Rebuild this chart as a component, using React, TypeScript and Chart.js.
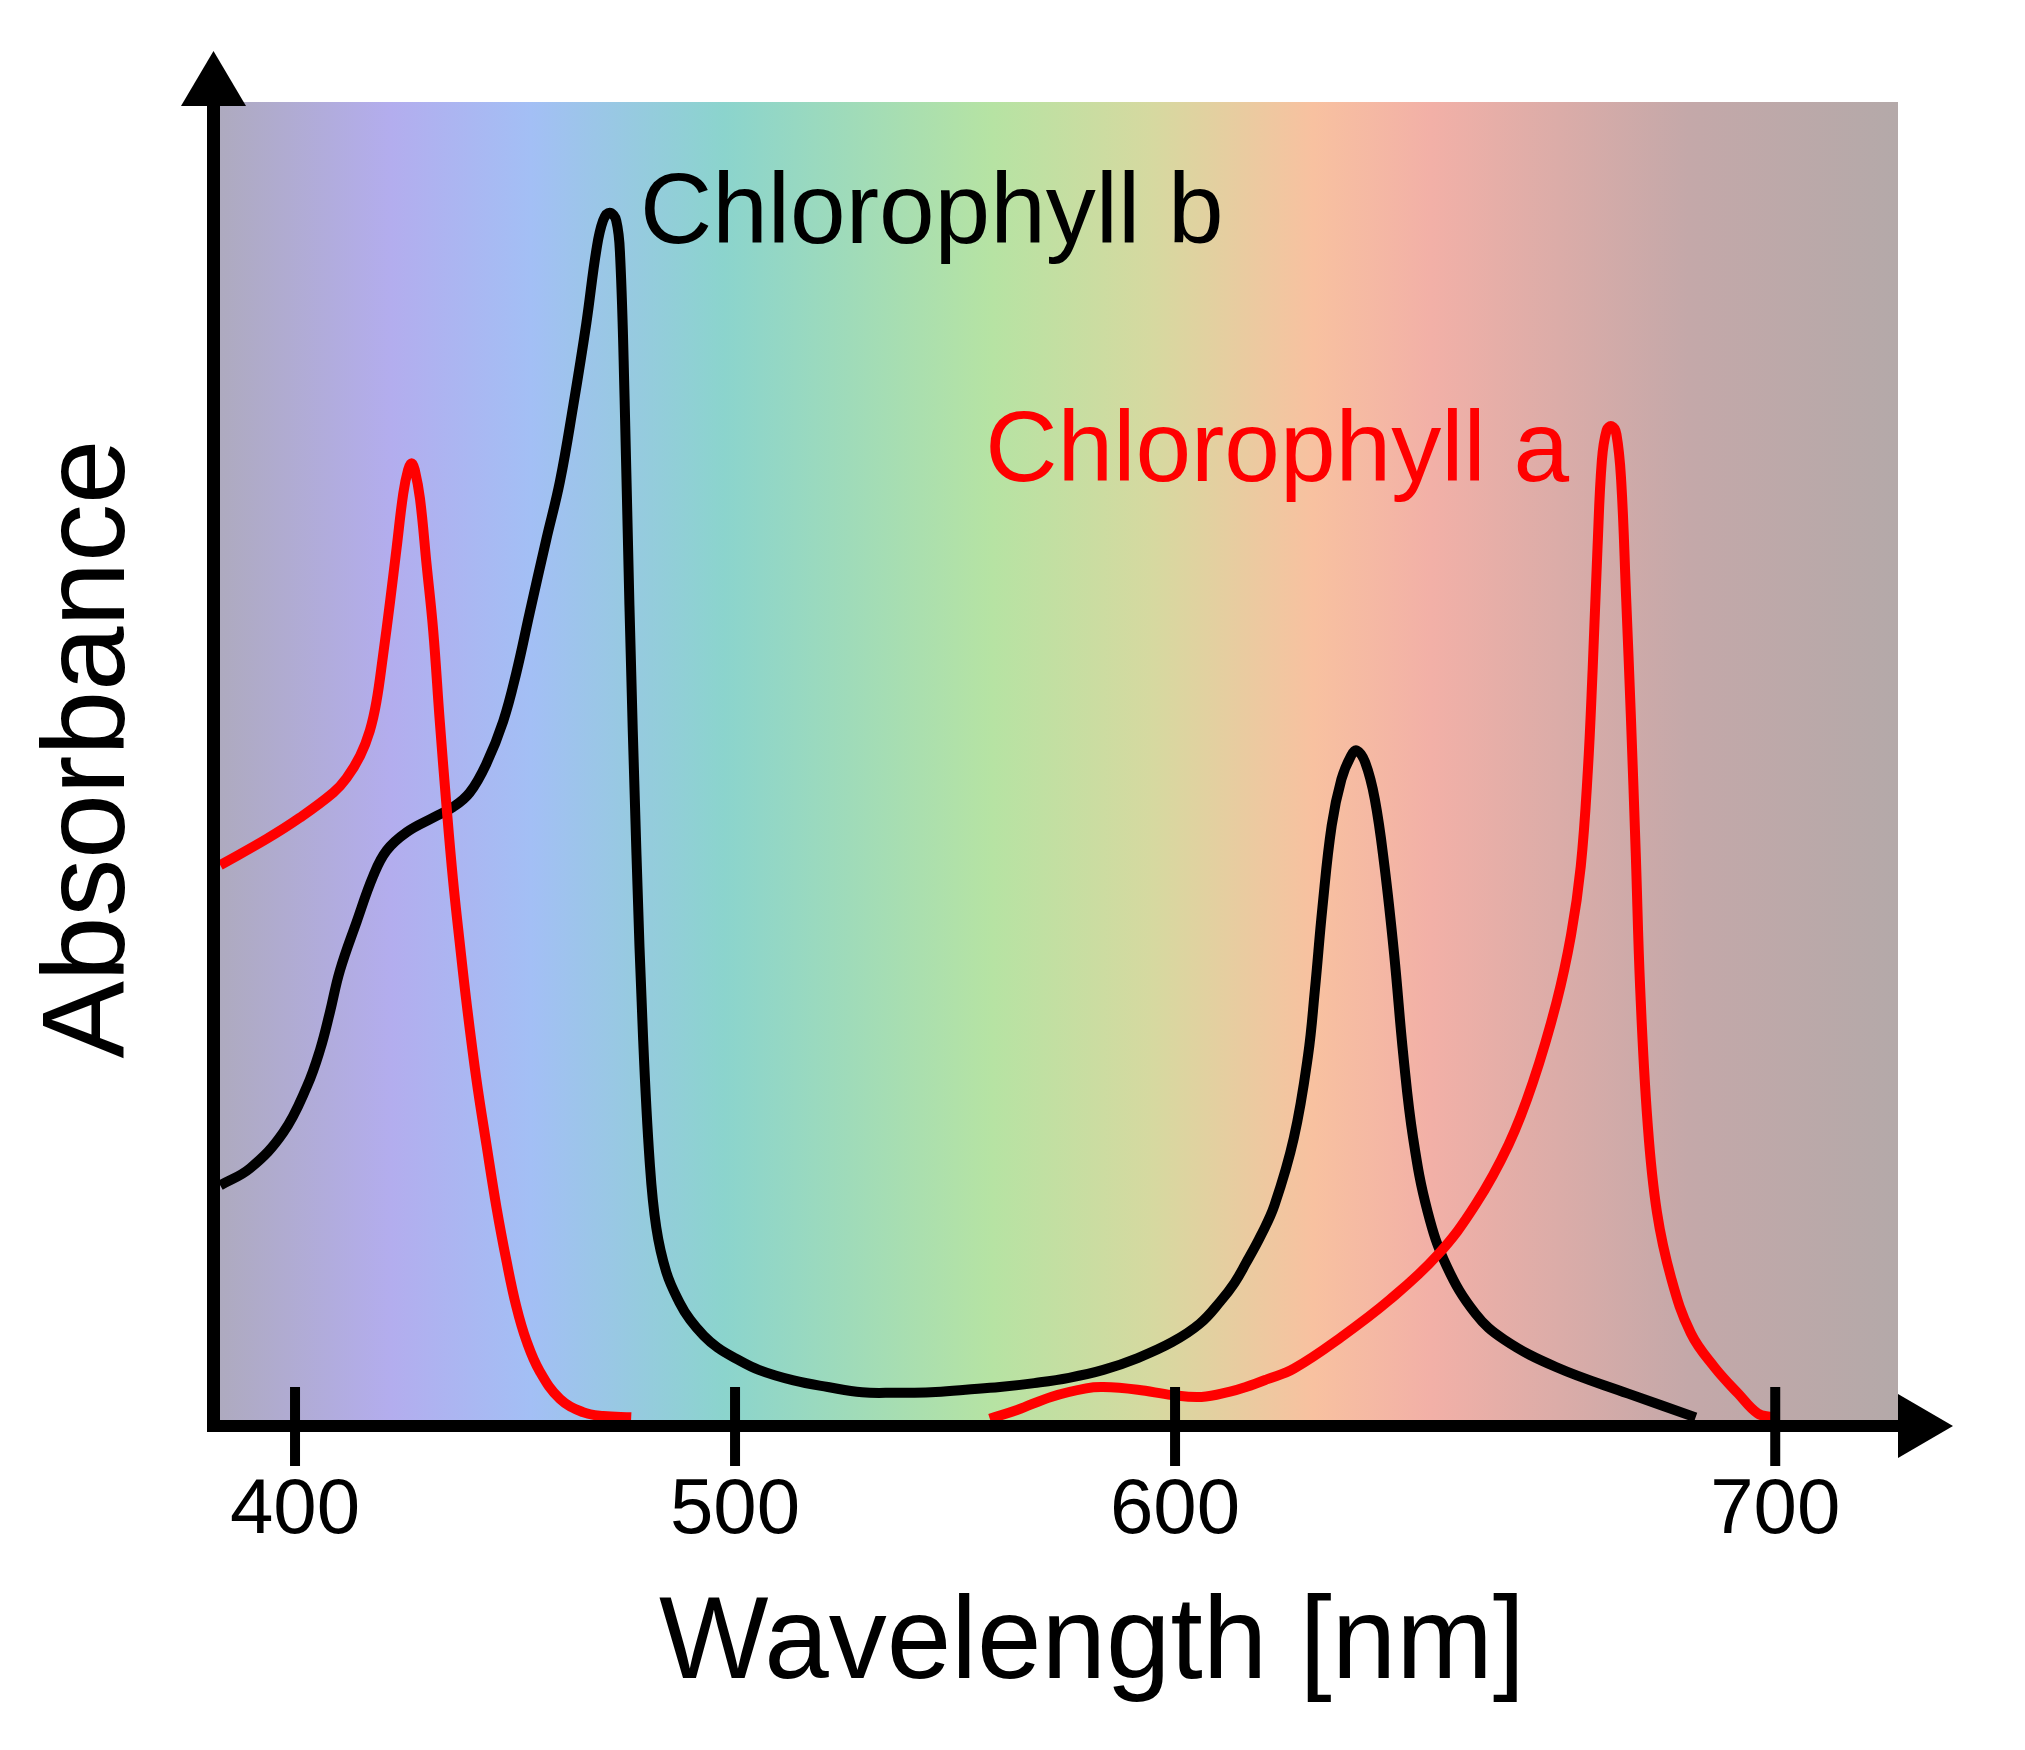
import { useEffect, useRef } from 'react';
import { Chart, registerables } from 'chart.js';

Chart.register(...registerables);

// Chlorophyll a (red) – wavelength [nm] and relative absorbance; null breaks the line
const chlAWavelength = [
  383.0, 393.6, 401.1, 408.7, 411.7, 414.8, 417.0, 418.5, 420.0, 421.6, 423.1, 424.6,
  425.7, 426.5, 427.2, 428.4, 429.9, 431.4, 432.9, 434.4, 435.9, 437.5, 439.0, 441.2,
  443.5, 445.8, 448.1, 450.3, 452.6, 455.6, 460.2, 465.4, 470.0, 476.4,
  517.0,
  557.9, 564.1, 572.0, 579.8, 583.7, 591.5, 599.3, 606.0, 612.5, 616.1, 621.0, 627.0, 637.8,
  648.7, 659.6, 668.2, 675.8, 681.3, 686.7, 690.0, 692.2, 693.8, 694.9, 696.0, 697.0,
  698.1, 699.2, 700.3, 701.4, 702.5, 703.6, 704.7, 705.7, 707.4, 709.5, 712.8, 717.2,
  722.6, 728.0, 732.4, 735.6,
];
const chlAAbsorbance: (number | null)[] = [
  42.1, 44.1, 45.7, 47.6, 48.7, 50.4, 52.3, 54.5, 58.0, 62.1, 66.2, 70.3,
  72.1, 72.6, 72.1, 69.9, 64.9, 59.9, 53.0, 46.7, 41.0, 36.0, 31.6, 25.9,
  20.9, 16.1, 12.0, 8.6, 6.0, 3.7, 1.6, 0.6, 0.3, 0.2,
  null,
  0.1, 0.76, 1.77, 2.4, 2.5, 2.3, 1.9, 1.75, 2.15, 2.5, 3.1, 3.9, 6.3,
  9.1, 12.5, 16.3, 20.9, 25.6, 31.7, 36.8, 42.0, 49.2, 56.9, 66.1, 72.8,
  75.1, 75.4, 74.8, 71.2, 62.5, 53.3, 43.0, 32.8, 22.5, 15.8, 10.7, 6.6,
  4.0, 2.0, 0.5, 0.2,
];

// Chlorophyll b (black)
const chlBWavelength = [
  383.0, 389.8, 397.3, 402.7, 405.7, 407.9, 410.2, 414.0, 417.8, 420.8, 425.4, 431.4,
  435.9, 439.7, 443.5, 447.3, 450.3, 453.3, 457.1, 460.2, 463.2, 466.2, 468.5, 470.0,
  471.5, 473.0, 473.9, 474.9, 476.0, 477.6, 479.1, 480.6, 482.1, 484.4, 487.4, 489.8,
  492.9, 496.0, 500.0, 505.4, 513.3, 521.1, 528.9, 536.7, 544.5, 552.4, 560.2, 568.0,
  575.9, 583.7, 591.5, 599.3, 605.6, 610.3, 613.5, 616.1, 619.5, 622.6, 627.0, 630.2,
  631.8, 633.5, 635.6, 637.8, 640.0, 641.3, 643.2, 645.4, 647.6, 649.8, 651.9, 654.1,
  657.4, 661.7, 668.2, 674.8, 686.7, 703.0, 718.3,
];
const chlBAbsorbance = [
  17.8, 19.1, 21.8, 25.3, 28.1, 30.9, 34.1, 37.8, 41.3, 43.2, 44.6, 45.7,
  46.5, 47.6, 49.8, 53.0, 56.7, 61.2, 66.8, 71.2, 76.9, 83.2, 88.8, 91.0,
  91.6, 91.0, 88.2, 77.5, 61.8, 42.9, 29.0, 19.6, 14.6, 11.2, 8.9, 7.6,
  6.4, 5.5, 4.7, 3.8, 3.0, 2.5, 2.1, 2.07, 2.1, 2.3, 2.5, 2.8,
  3.2, 3.8, 4.7, 5.9, 7.3, 9.0, 10.4, 11.9, 14.0, 16.3, 21.4, 27.6,
  32.7, 38.9, 45.1, 48.6, 50.4, 50.8, 49.9, 47.1, 42.0, 35.3, 27.6, 21.4,
  15.8, 11.7, 8.1, 6.1, 4.0, 2.0, 0.2,
];

// x-axis tick positions (as drawn in the figure) and their labels
const xTickValues = [400, 500, 600, 736.4];
const xTickLabels = ['400', '500', '600', '700'];

// background spectrum colour stops (wavelength -> colour)
const spectrumWavelengths = [383.0, 421.8, 453.6, 497.5, 558.4, 594.8, 631.4, 658.2, 716.6, 764.3];
const spectrumColors = [
  '#aeaabf', '#b3adee', '#a3bff5', '#8bd4cd', '#b6e3a3',
  '#d6d9a0', '#f8c1a0', '#f2b0a7', '#c4a8a9', '#b4a9a9',
];

const FONT = '"Liberation Sans", Arial, Helvetica, sans-serif';

const backgroundPlugin = {
  id: 'spectrumBackground',
  beforeDatasetsDraw(chart: any) {
    const { ctx, chartArea: ca, scales } = chart;
    const x = scales.x;
    const g = ctx.createLinearGradient(ca.left, 0, ca.right, 0);
    const w = ca.right - ca.left;
    spectrumWavelengths.forEach((wl, i) => {
      const p = (x.getPixelForValue(wl) - ca.left) / w;
      g.addColorStop(Math.min(1, Math.max(0, p)), spectrumColors[i]);
    });
    ctx.save();
    ctx.fillStyle = g;
    ctx.fillRect(ca.left, ca.top, w, ca.bottom - ca.top);
    ctx.restore();
  },
};

const axesPlugin = {
  id: 'arrowAxes',
  afterDraw(chart: any) {
    const { ctx, chartArea: ca, scales } = chart;
    const x = scales.x;
    const lw = 13;
    ctx.save();
    ctx.fillStyle = '#000';
    // y axis line
    const yAxisCx = ca.left - lw / 2;
    ctx.fillRect(ca.left - lw, ca.top + 4, lw, ca.bottom + 12 - (ca.top + 4));
    // y arrow head
    ctx.beginPath();
    ctx.moveTo(yAxisCx, ca.top - 51);
    ctx.lineTo(yAxisCx + 32.5, ca.top + 4);
    ctx.lineTo(yAxisCx - 32.5, ca.top + 4);
    ctx.closePath();
    ctx.fill();
    // x axis line
    const xAxisCy = ca.bottom + 6;
    ctx.fillRect(ca.left - lw, ca.bottom, ca.right - (ca.left - lw), 12);
    // x arrow head
    ctx.beginPath();
    ctx.moveTo(ca.right + 55, xAxisCy);
    ctx.lineTo(ca.right, xAxisCy - 32);
    ctx.lineTo(ca.right, xAxisCy + 32);
    ctx.closePath();
    ctx.fill();
    // ticks + labels
    ctx.font = `78px ${FONT}`;
    ctx.textAlign = 'center';
    ctx.textBaseline = 'alphabetic';
    xTickValues.forEach((v, i) => {
      const px = x.getPixelForValue(v);
      ctx.fillRect(px - 5, ca.bottom - 33, 10, 79);
      ctx.fillText(xTickLabels[i], px, ca.bottom + 113);
    });
    // axis titles
    ctx.font = `116px ${FONT}`;
    ctx.textAlign = 'left';
    ctx.fillText('Wavelength [nm]', 659, ca.bottom + 258);
    ctx.save();
    ctx.translate(124, 749);
    ctx.rotate(-Math.PI / 2);
    ctx.textAlign = 'center';
    ctx.fillText('Absorbance', 0, 0);
    ctx.restore();
    // series labels
    ctx.font = `100px ${FONT}`;
    ctx.textAlign = 'left';
    ctx.fillStyle = '#000000';
    ctx.fillText('Chlorophyll b', 640, 243);
    ctx.textAlign = 'right';
    ctx.fillStyle = '#ff0000';
    ctx.fillText('Chlorophyll a', 1569, 481);
    ctx.restore();
  },
};

export default function App() {
  const ref = useRef<HTMLCanvasElement | null>(null);
  useEffect(() => {
    if (!ref.current) return;
    const red = chlAWavelength.map((wl, i) => ({ x: wl, y: chlAAbsorbance[i] }));
    const black = chlBWavelength.map((wl, i) => ({ x: wl, y: chlBAbsorbance[i] }));
    const chart = new Chart(ref.current, {
      type: 'line',
      data: {
        datasets: [
          {
            label: 'Chlorophyll a',
            data: red as any,
            borderColor: '#ff0000',
            borderWidth: 10,
            pointRadius: 0,
            tension: 0.4,
            spanGaps: false,
            fill: false,
            borderJoinStyle: 'round',
          },
          {
            label: 'Chlorophyll b',
            data: black,
            borderColor: '#000000',
            borderWidth: 10,
            pointRadius: 0,
            tension: 0.4,
            fill: false,
            borderJoinStyle: 'round',
          },
        ],
      },
      options: {
        animation: false,
        responsive: false,
        devicePixelRatio: 1,
        layout: { padding: { left: 220, top: 102, right: 127, bottom: 330 } },
        scales: {
          x: { type: 'linear', min: 382.95, max: 764.3, display: false },
          y: { type: 'linear', min: 0, max: 100, display: false },
        },
        plugins: { legend: { display: false }, tooltip: { enabled: false } },
        events: [],
      },
      plugins: [backgroundPlugin, axesPlugin],
    });
    return () => chart.destroy();
  }, []);
  return (
    <div style={{ position: 'absolute', left: 0, top: 0, width: 2025, height: 1750, background: '#ffffff' }}>
      <canvas ref={ref} width={2025} height={1750} style={{ display: 'block', width: 2025, height: 1750 }} />
    </div>
  );
}
